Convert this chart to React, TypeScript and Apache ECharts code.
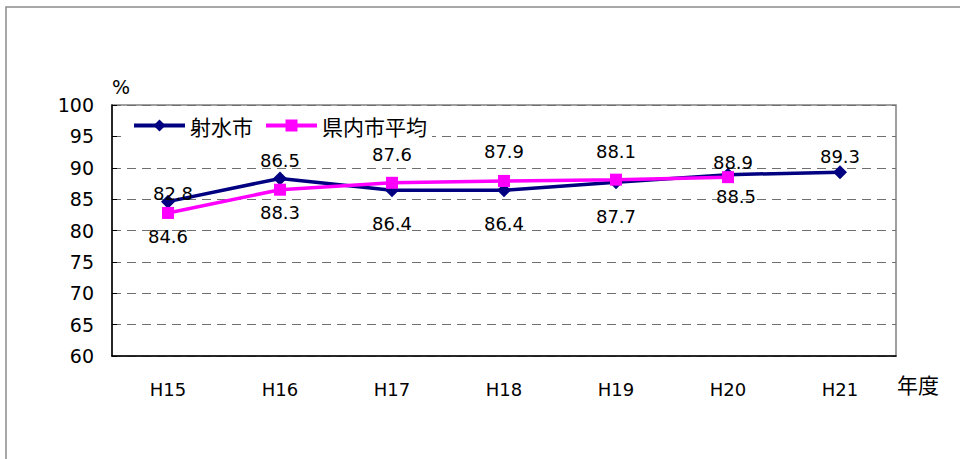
import React, { useEffect, useRef } from "react";
import * as echarts from "echarts";

const categories = ["H15", "H16", "H17", "H18", "H19", "H20", "H21"];
const imizuValues = [84.6, 88.3, 86.4, 86.4, 87.7, 88.9, 89.3];
const prefAvgValues = [82.8, 86.5, 87.6, 87.9, 88.1, 88.5];
const seriesNames = ["射水市", "県内市平均"];
const yTicks = { min: 60, max: 100, interval: 5 };

// label placement (visual offsets only)
const imizuLabelOffsets: number[][] = [[0, 35], [0, 34], [0, 33], [0, 33], [0, 34], [5, -12], [0, -16]];
const prefLabelOffsets: number[][] = [[5, -19], [0, -29], [0, -28], [0, -29], [0, -28], [8, 19]];

export default function App() {
  const ref = useRef<HTMLDivElement>(null);
  useEffect(() => {
    if (!ref.current) return;
    const chart = echarts.init(ref.current, null, { renderer: "svg" });
    const labelBase = {
      show: true,
      position: "inside" as const,
      color: "#000",
      fontSize: 18,
      fontFamily: "DejaVu Sans",
    };
    chart.setOption({
      animation: false,
      backgroundColor: "#fff",
      graphic: [
        {
          type: "rect",
          shape: { x: 6, y: 7, width: 1000, height: 500 },
          style: { fill: "none", stroke: "#8c8c8c", lineWidth: 1.5 },
          silent: true,
          z: -10,
        },
        {
          type: "text",
          x: 112,
          y: 77,
          style: { text: "%", fontSize: 19, fontFamily: "DejaVu Sans", fill: "#000" },
        },
        {
          type: "text",
          x: 897,
          y: 373,
          style: { text: "年度", fontSize: 21, fontFamily: "Noto Sans CJK JP", fill: "#000" },
        },
      ],
      legend: {
        left: 127,
        top: 113,
        backgroundColor: "#fff",
        padding: [2, 5],
        itemWidth: 51,
        itemHeight: 15,
        itemGap: 11,
        lineStyle: { width: 4 },
        textStyle: { fontSize: 21, fontFamily: "Noto Sans CJK JP", color: "#000" },
        data: seriesNames,
        z: 10,
      },
      grid: {
        left: 112,
        right: 64,
        top: 105,
        bottom: 103,
        show: true,
        borderColor: "#808080",
        borderWidth: 1.5,
      },
      xAxis: {
        type: "category",
        data: categories,
        boundaryGap: true,
        axisLine: { lineStyle: { color: "#000", width: 1.5 } },
        axisTick: { inside: true, length: 5, lineStyle: { color: "#000" } },
        axisLabel: { fontSize: 18, fontFamily: "DejaVu Sans", color: "#000", margin: 24 },
        splitLine: { show: false },
      },
      yAxis: {
        type: "value",
        min: yTicks.min,
        max: yTicks.max,
        interval: yTicks.interval,
        axisLine: { show: true, lineStyle: { color: "#000", width: 1.5 } },
        axisTick: { show: true, inside: true, length: 5, lineStyle: { color: "#000" } },
        axisLabel: { fontSize: 19, fontFamily: "DejaVu Sans", color: "#000", margin: 18 },
        splitLine: { lineStyle: { color: "#6f6f6f", type: [9, 6], width: 1 } },
      },
      series: [
        {
          name: seriesNames[0],
          type: "line",
          data: imizuValues.map((v, i) => ({ value: v, label: { offset: imizuLabelOffsets[i] } })),
          symbol: "diamond",
          symbolSize: 14,
          itemStyle: { color: "#000080" },
          lineStyle: { color: "#000080", width: 3.5 },
          label: labelBase,
          z: 3,
        },
        {
          name: seriesNames[1],
          type: "line",
          data: prefAvgValues.map((v, i) => ({ value: v, label: { offset: prefLabelOffsets[i] } })),
          symbol: "rect",
          symbolSize: 12,
          itemStyle: { color: "#ff00ff" },
          lineStyle: { color: "#ff00ff", width: 3.5 },
          label: labelBase,
          z: 4,
        },
      ],
    });
    return () => chart.dispose();
  }, []);
  return (
    <div
      ref={ref}
      style={{ position: "fixed", left: 0, top: 0, width: 960, height: 459 }}
    />
  );
}
